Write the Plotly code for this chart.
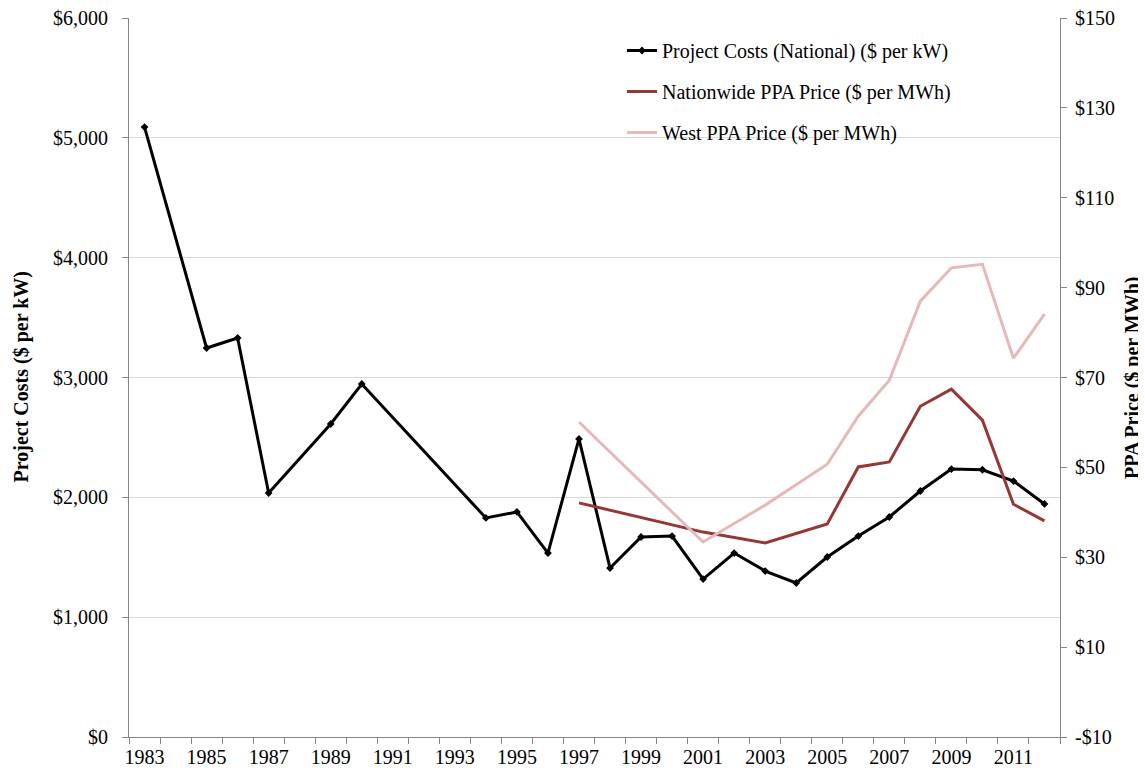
import plotly.graph_objects as go

# ---- data ----
cost_years = [1983, 1985, 1986, 1987, 1989, 1990, 1994, 1995, 1996, 1997, 1998, 1999,
              2000, 2001, 2002, 2003, 2004, 2005, 2006, 2007, 2008, 2009, 2010, 2011, 2012]
project_costs = [5090, 3246, 3330, 2036, 2612, 2946, 1828, 1878, 1535, 2487, 1410, 1669,
                 1677, 1318, 1535, 1385, 1285, 1502, 1677, 1836, 2053, 2236, 2230, 2136, 1945]

ppa_years = [1997, 2001, 2003, 2005, 2006, 2007, 2008, 2009, 2010, 2011, 2012]
nationwide_ppa = [42.1, 35.6, 33.2, 37.4, 50.1, 51.2, 63.6, 67.4, 60.5, 41.8, 38.1]
west_ppa = [60.1, 33.4, 41.6, 50.7, 61.4, 69.4, 87.0, 94.4, 95.2, 74.3, 84.1]

left_tickvals = [0, 1000, 2000, 3000, 4000, 5000, 6000]
left_ticktext = ["$0", "$1,000", "$2,000", "$3,000", "$4,000", "$5,000", "$6,000"]
right_tickvals = [-10, 10, 30, 50, 70, 90, 110, 130, 150]
right_ticktext = ["-$10", "$10", "$30", "$50", "$70", "$90", "$110", "$130", "$150"]

names = ["Project Costs (National) ($ per kW)",
         "Nationwide PPA Price ($ per MWh)",
         "West PPA Price ($ per MWh)"]

FONT = "Liberation Serif"
FS = 20
AXIS = "#868686"
GRID = "#d9d9d9"

fig = go.Figure()
fig.add_trace(go.Scatter(
    x=cost_years, y=project_costs, name=names[0], legendgroup="g1",
    mode="lines+markers", line=dict(color="black", width=3),
    marker=dict(symbol="diamond", size=6, color="black")))
fig.add_trace(go.Scatter(
    x=ppa_years, y=nationwide_ppa, name=names[1], legendgroup="g2", yaxis="y2",
    mode="lines", line=dict(color="#953735", width=3)))
fig.add_trace(go.Scatter(
    x=ppa_years, y=west_ppa, name=names[2], legendgroup="g3", yaxis="y2",
    mode="lines", line=dict(color="#e6b9b8", width=3)))

# page body adds an 8px offset; positions below are in screenshot pixels
OFF = 8
W, H = 1146, 770
L = 129 - OFF
T = 18 - OFF
R = W - (1060 - OFF)
B = H - (737 - OFF)
pw = W - L - R
ph = H - T - B


def px_x(p):
    return (p - OFF - L) / pw


def px_y(p):
    return (H - B - (p - OFF)) / ph


fig.update_layout(
    width=W, height=H,
    margin=dict(l=L, r=R, t=T, b=B, pad=0, autoexpand=False),
    paper_bgcolor="white", plot_bgcolor="white",
    font=dict(family=FONT, size=FS, color="black"),
    showlegend=True,
    legend=dict(x=px_x(622), y=px_y(31), xanchor="left", yanchor="top",
                bgcolor="rgba(0,0,0,0)", font=dict(family=FONT, size=FS),
                tracegroupgap=12, itemwidth=30),
    xaxis=dict(range=[1982.5, 2012.5], tickmode="linear", tick0=1983, dtick=2,
               tickformat="d", ticks="", showgrid=False, zeroline=False,
               showline=True, linecolor=AXIS, linewidth=1, automargin=False,
               ticklabeloverflow="allow",
               minor=dict(ticks="outside", tick0=1982.5, dtick=1, ticklen=6,
                          tickcolor=AXIS, showgrid=False),
               tickfont=dict(family=FONT, size=FS), ticklabelstandoff=2),
    yaxis=dict(range=[0, 6000], tickmode="array", tickvals=left_tickvals,
               ticktext=left_ticktext, showgrid=True, gridcolor=GRID, gridwidth=1,
               zeroline=False, showline=True, linecolor=AXIS, linewidth=1,
               ticks="outside", ticklen=6, tickcolor=AXIS, automargin=False,
               ticklabeloverflow="allow",
               tickfont=dict(family=FONT, size=FS), ticklabelstandoff=10),
    yaxis2=dict(range=[-10, 150], overlaying="y", side="right", tickmode="array",
                tickvals=right_tickvals, ticktext=right_ticktext, showgrid=False,
                zeroline=False, showline=True, linecolor=AXIS, linewidth=1,
                ticks="outside", ticklen=6, tickcolor=AXIS, automargin=False,
                ticklabeloverflow="allow",
                tickfont=dict(family=FONT, size=FS), ticklabelstandoff=4),
    shapes=[dict(type="rect", xref="paper", yref="paper",
                 x0=px_x(532), x1=px_x(1054), y0=px_y(160), y1=px_y(25),
                 fillcolor="white", line=dict(width=0), layer="between")],
    annotations=[
        dict(text="<b>Project Costs ($ per kW)</b>", xref="paper", yref="paper",
             x=px_x(21), y=0.5, textangle=-90, showarrow=False,
             font=dict(family=FONT, size=FS), xanchor="center", yanchor="middle"),
        dict(text="<b>PPA Price ($ per MWh)</b>", xref="paper", yref="paper",
             x=px_x(1132), y=px_y(378), textangle=-90, showarrow=False,
             font=dict(family=FONT, size=FS), xanchor="center", yanchor="middle"),
    ],
)

fig.write_html("out.html")
